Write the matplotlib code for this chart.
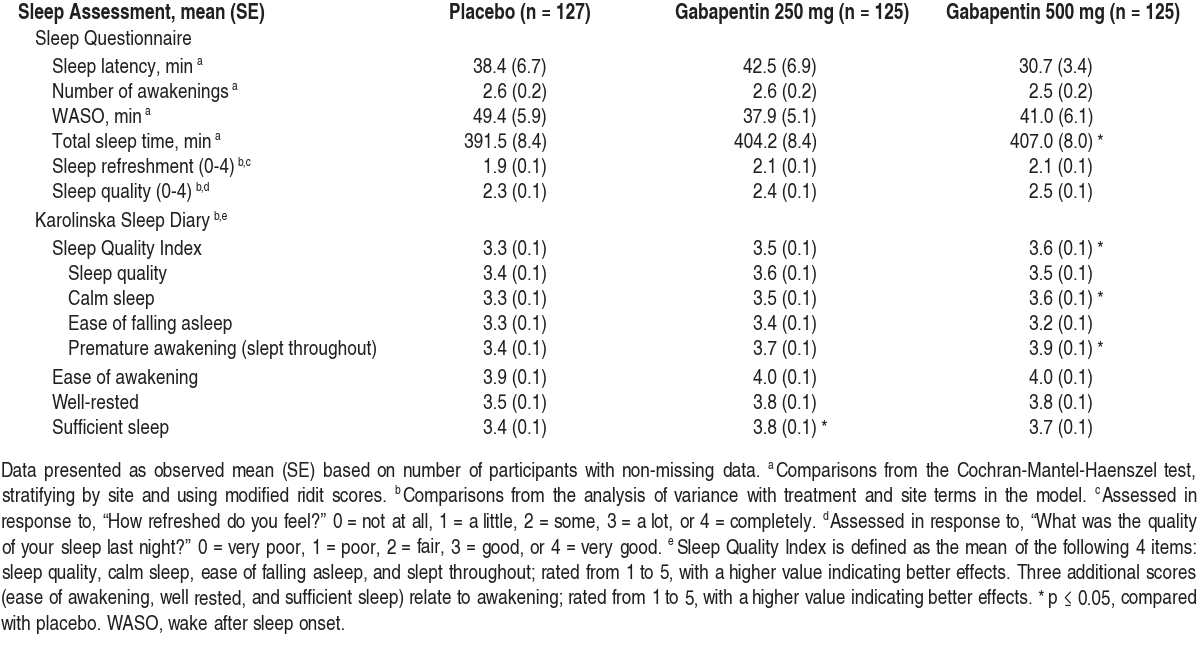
import matplotlib
matplotlib.use('Agg')
import matplotlib.pyplot as plt
from matplotlib import font_manager

# ---- data ----
col_headers = ["Placebo (n = 127)", "Gabapentin 250 mg (n = 125)", "Gabapentin 500 mg (n = 125)"]
row_labels = ["Sleep Questionnaire", "Sleep latency, min", "Number of awakenings", "WASO, min",
              "Total sleep time, min", "Sleep refreshment (0-4)", "Sleep quality (0-4)",
              "Karolinska Sleep Diary", "Sleep Quality Index", "Sleep quality", "Calm sleep",
              "Ease of falling asleep", "Premature awakening (slept throughout)",
              "Ease of awakening", "Well-rested", "Sufficient sleep"]
row_levels = [1, 2, 2, 2, 2, 2, 2, 1, 2, 3, 3, 3, 3, 2, 2, 2]
row_notes = ["", "a", "a", "a", "a", "b,c", "b,d", "b,e", "", "", "", "", "", "", "", ""]

placebo_mean = [None, 38.4, 2.6, 49.4, 391.5, 1.9, 2.3, None, 3.3, 3.4, 3.3, 3.3, 3.4, 3.9, 3.5, 3.4]
placebo_se = [None, 6.7, 0.2, 5.9, 8.4, 0.1, 0.1, None, 0.1, 0.1, 0.1, 0.1, 0.1, 0.1, 0.1, 0.1]
g250_mean = [None, 42.5, 2.6, 37.9, 404.2, 2.1, 2.4, None, 3.5, 3.6, 3.5, 3.4, 3.7, 4.0, 3.8, 3.8]
g250_se = [None, 6.9, 0.2, 5.1, 8.4, 0.1, 0.1, None, 0.1, 0.1, 0.1, 0.1, 0.1, 0.1, 0.1, 0.1]
g500_mean = [None, 30.7, 2.5, 41.0, 407.0, 2.1, 2.5, None, 3.6, 3.5, 3.6, 3.2, 3.9, 4.0, 3.8, 3.7]
g500_se = [None, 3.4, 0.2, 6.1, 8.0, 0.1, 0.1, None, 0.1, 0.1, 0.1, 0.1, 0.1, 0.1, 0.1, 0.1]
placebo_sig = [False] * 16
g250_sig = [False] * 15 + [True]
g500_sig = [False, False, False, False, True, False, False, False, True, False, True, False, True,
            False, False, False]

footnote_lines = [
    "Data presented as observed mean (SE) based on number of participants with non-missing data. ^a Comparisons from the Cochran-Mantel-Haenszel test,",
    "stratifying by site and using modified ridit scores. ^b Comparisons from the analysis of variance with treatment and site terms in the model. ^c Assessed in",
    "response to, \u201cHow refreshed do you feel?\u201d 0 = not at all, 1 = a little, 2 = some, 3 = a lot, or 4 = completely. ^d Assessed in response to, \u201cWhat was the quality",
    "of your sleep last night?\u201d 0 = very poor, 1 = poor, 2 = fair, 3 = good, or 4 = very good. ^e Sleep Quality Index is defined as the mean of the following 4 items:",
    "sleep quality, calm sleep, ease of falling asleep, and slept throughout; rated from 1 to 5, with a higher value indicating better effects. Three additional scores",
    "(ease of awakening, well rested, and sufficient sleep) relate to awakening; rated from 1 to 5, with a higher value indicating better effects. * p \u2264 0.05, compared",
    "with placebo. WASO, wake after sleep onset.",
]


def pick_font():
    for fam in ['TeX Gyre Heros Cn', 'Liberation Sans Narrow', 'Pragati Narrow',
                'Roboto Condensed', 'Liberation Sans']:
        try:
            font_manager.findfont(font_manager.FontProperties(family=fam), fallback_to_default=False)
            return fam
        except Exception:
            pass
    return 'DejaVu Sans'


FONT = [pick_font(), 'DejaVu Sans']
INK = '#231f20'
W, H = 1200, 667

fig = plt.figure(figsize=(12, 6.67), dpi=100)
fig.patch.set_facecolor('white')
renderer = fig.canvas.get_renderer()


def put(x, y, s, size, weight='normal', ha='left'):
    return fig.text(x / W, 1 - y / H, s, fontsize=size, fontweight=weight, ha=ha,
                    va='baseline', color=INK, family=FONT)


def width(t):
    return t.get_window_extent(renderer).width


# font size chosen so the bold header spans like the reference
probe = put(0, 0, "Sleep Assessment, mean (SE)", 10, 'bold')
FS = 10 * 247 / width(probe)
probe.remove()
SUP = FS * 0.6
RAISE = FS * 0.55


def put_sup(x, y, s):
    return put(x, y - RAISE, s, SUP)


# ---- table ----
header_y = 19
row_y = [45, 73, 98, 123, 148, 173, 198, 227, 255, 280, 305, 330, 355, 384, 409, 434]
indent = {1: 35, 2: 52, 3: 68}
header_cx = [520, 792, 1063]
value_right = [547, 817, 1093]

put(18, header_y, "Sleep Assessment, mean (SE)", FS, 'bold')
for cx, h in zip(header_cx, col_headers):
    put(cx, header_y, h, FS, 'bold', ha='center')

columns = [(placebo_mean, placebo_se, placebo_sig),
           (g250_mean, g250_se, g250_sig),
           (g500_mean, g500_se, g500_sig)]

for i, label in enumerate(row_labels):
    y = row_y[i]
    t = put(indent[row_levels[i]], y, label, FS)
    if row_notes[i]:
        put_sup(indent[row_levels[i]] + width(t) + 3, y, row_notes[i])
    for (means, ses, sig), xr in zip(columns, value_right):
        if means[i] is None:
            continue
        put(xr, y, f"{means[i]:.1f} ({ses[i]:.1f})", FS, ha='right')
        if sig[i]:
            put(xr + 3, y, "*", FS)

# ---- footnote (justified) ----
foot_y0 = 477
foot_dy = 25.5
left, right = 1, 1197


def parse(line):
    toks = line.split(' ')
    words, i = [], 0
    while i < len(toks):
        tk = toks[i]
        if tk.startswith('^') and i + 1 < len(toks):
            words.append([(tk[1:], True), (toks[i + 1], False)])
            i += 2
        else:
            words.append([(tk, False)])
            i += 1
    return words


space_w = None
for k, line in enumerate(footnote_lines):
    y = foot_y0 + k * foot_dy
    words = parse(line)
    made = []
    total = 0
    for w in words:
        pieces = []
        for s, sup in w:
            t = put_sup(0, y, s) if sup else put(0, y, s, FS)
            pieces.append((t, sup, width(t)))
        wlen = sum(p[2] for p in pieces) + 2 * (len(pieces) - 1)
        made.append((pieces, wlen))
        total += wlen
    if k < len(footnote_lines) - 1:
        gap = (right - left - total) / (len(made) - 1)
    else:
        gap = FS * 0.3
    x = left
    for pieces, wlen in made:
        xx = x
        for t, sup, wd in pieces:
            t.set_x(xx / W)
            xx += wd + 2
        x += wlen + gap

fig.savefig('out.png', dpi=100, facecolor='white')
